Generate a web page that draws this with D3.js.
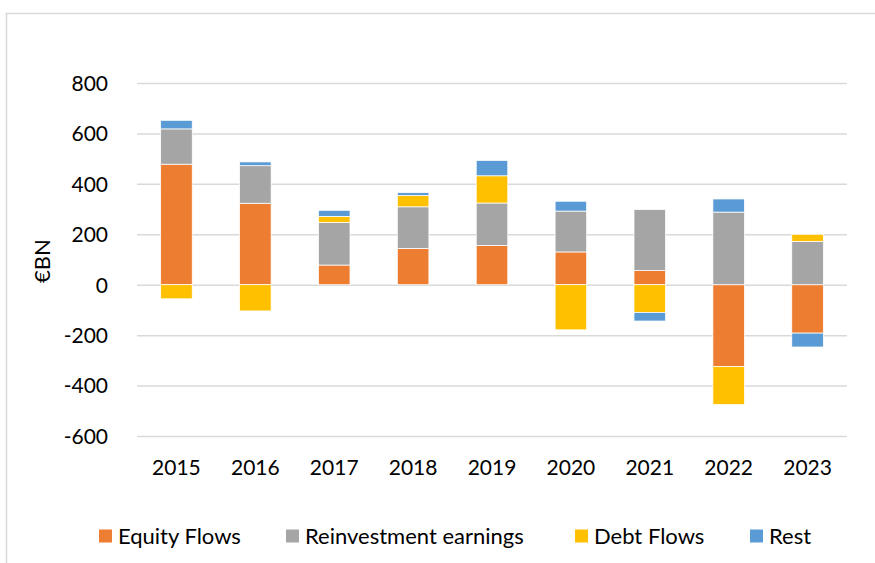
<!DOCTYPE html>
<html lang="en">
<head>
    <meta charset="UTF-8">
    <title>FDI flows</title>
    <style type="text/css">
        body { margin:0; background:#fff }
        text { font-family: Lato, "Open Sans", sans-serif; fill:#000 }
        .grid line { stroke:#d9d9d9; stroke-width:1.5px }
    </style>
</head>
<body>
<script src="https://d3js.org/d3.v7.min.js"></script>
<script>
    var width = 875,
        height = 563,
        svg = d3.select('body').append('svg')
                .attr('width', width)
                .attr('height', height);

    var years = ['2015', '2016', '2017', '2018', '2019', '2020', '2021', '2022', '2023'];
    var seriesNames = ['Equity Flows', 'Reinvestment earnings', 'Debt Flows', 'Rest'];
    var colors = ['#ED7D31', '#A5A5A5', '#FFC000', '#5B9BD5'];

    var equity   = [478, 323,  78, 144, 156, 130,   56, -325, -192];
    var reinvest = [140, 149, 169, 165, 168, 162,  242,  288,  172];
    var debt     = [-56, -104, 24,  45, 108, -179, -110, -150,  28];
    var rest     = [ 34,  15,  24,  11,  61,  39,  -34,   52,  -55];

    var yTicks = [-600, -400, -200, 0, 200, 400, 600, 800];

    var rows = years.map(function(y, i) {
        return { year: y, 'Equity Flows': equity[i], 'Reinvestment earnings': reinvest[i],
                 'Debt Flows': debt[i], 'Rest': rest[i] };
    });

    var stacked = d3.stack()
        .keys(seriesNames)
        .offset(d3.stackOffsetDiverging)(rows);

    var xScale = d3.scaleBand()
        .domain(years)
        .range([137, 847])
        .paddingInner(0.6)
        .paddingOuter(0.3);

    var yScale = d3.scaleLinear()
        .domain([-600, 800])
        .range([436, 83]);

    // chart frame (only top and left edges visible)
    svg.append('path')
        .attr('d', 'M6.5,563 V13.5 H875')
        .attr('fill', 'none')
        .attr('stroke', '#d9d9d9')
        .attr('stroke-width', 1.5);

    // y axis with grid
    var yAxis = d3.axisLeft(yScale)
        .tickValues(yTicks)
        .tickSize(-(847 - 137))
        .tickPadding(29)
        .tickFormat(function(d){ return String(d); });

    var gy = svg.append('g')
        .attr('class', 'grid')
        .attr('transform', 'translate(137,0)')
        .call(yAxis);
    gy.select('.domain').remove();
    gy.selectAll('text')
        .style('font-size', '21px')
        .attr('dy', '0.35em');

    // bars
    svg.append('g').selectAll('g')
        .data(stacked)
        .enter().append('g')
        .attr('fill', function(d, i){ return colors[i]; })
        .selectAll('rect')
        .data(function(d){ return d; })
        .enter().append('rect')
        .attr('x', function(d){ return xScale(d.data.year); })
        .attr('width', xScale.bandwidth())
        .attr('y', function(d){ return yScale(Math.max(d[0], d[1])); })
        .attr('height', function(d){ return Math.abs(yScale(d[0]) - yScale(d[1])); })
        .attr('stroke', '#fff')
        .attr('stroke-width', 0.75);

    // x axis labels
    var xAxis = d3.axisBottom(xScale).tickSize(0).tickPadding(0);
    var gx = svg.append('g')
        .attr('transform', 'translate(0,460)')
        .call(xAxis);
    gx.select('.domain').remove();
    gx.selectAll('text')
        .style('font-size', '21px')
        .attr('dy', '0.71em');

    // y axis title
    svg.append('text')
        .attr('transform', 'translate(50,261) rotate(-90)')
        .attr('text-anchor', 'middle')
        .style('font-size', '22px')
        .text('€BN');

    // legend
    var legendX = [99, 286, 575, 750];
    var legend = svg.append('g').selectAll('g')
        .data(seriesNames)
        .enter().append('g')
        .attr('transform', function(d, i){ return 'translate(' + legendX[i] + ',536)'; });
    legend.append('rect')
        .attr('x', 0).attr('y', -6.5)
        .attr('width', 13).attr('height', 13)
        .attr('fill', function(d, i){ return colors[i]; });
    legend.append('text')
        .attr('x', 19)
        .attr('dy', '0.35em')
        .style('font-size', '22px')
        .text(function(d){ return d; });
</script>
</body>
</html>
